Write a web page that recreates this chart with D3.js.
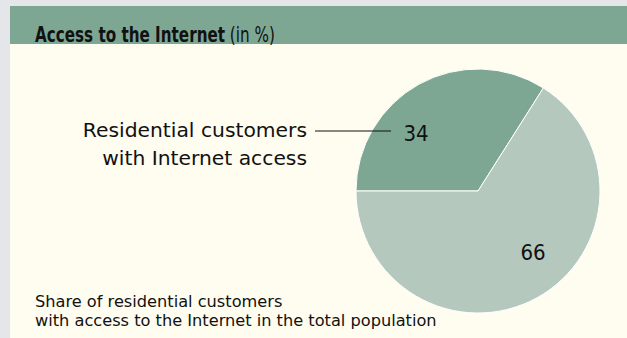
<!DOCTYPE html>
<html lang="en">
<head>
  <meta charset="UTF-8">
  <title>Access to the Internet</title>
  <script src="https://cdn.jsdelivr.net/npm/d3@7"></script>
  <style>
    body { margin: 0; background: #e5e6ea; }
    text { font-family: "DejaVu Sans", sans-serif; fill: #111; }
  </style>
</head>
<body>
  <svg width="627" height="338" id="mainsvg"></svg>
  <script>
    const categories = ['Residential customers with Internet access', 'Others']
    const values = [34, 66]
    const colors = ['#7da793', '#b5c8bd']

    const svg = d3.select('#mainsvg')
    const width = +svg.attr('width')
    const height = +svg.attr('height')

    // panel + header band
    svg.append('rect').attr('x', 10).attr('y', 6).attr('width', width - 10).attr('height', height - 6).attr('fill', '#fffcf0')
    svg.append('rect').attr('x', 10).attr('y', 6).attr('width', width - 10).attr('height', 38).attr('fill', '#7da793')

    // title squeezed horizontally to match the narrow original face
    const titleG = svg.append('g')
    const title = titleG.append('text').attr('x', 0).attr('y', 0).attr('font-size', 21)
      .style('font-family', '"DejaVu Sans Condensed", sans-serif')
    title.append('tspan').attr('font-weight', 'bold').text('Access to the Internet')
    title.append('tspan').text(' (in %)')
    const tw = title.node().getComputedTextLength()
    titleG.attr('transform', `translate(35,42) scale(${240 / tw},1)`)

    const cx = 478, cy = 191, r = 122
    const pie = d3.pie().sort(null).startAngle(-Math.PI / 2).endAngle(1.5 * Math.PI)
    const arcs = pie(values)
    const arc = d3.arc().innerRadius(0).outerRadius(r)

    const g = svg.append('g').attr('transform', `translate(${cx},${cy})`)
    g.selectAll('path').data(arcs).join('path')
      .attr('d', arc)
      .attr('fill', (d, i) => colors[i])
      .attr('stroke', '#fff')
      .attr('stroke-width', 1)

    const labelPos = [[-62, -50], [55, 69]]
    g.selectAll('text.val').data(arcs).join('text')
      .attr('class', 'val')
      .attr('x', (d, i) => labelPos[i][0])
      .attr('y', (d, i) => labelPos[i][1])
      .attr('text-anchor', 'middle')
      .attr('font-size', 22)
      .style('font-family', '"DejaVu Sans Condensed", sans-serif')
      .text(d => d.data)

    // leader line + callout for the 34 slice
    svg.append('line').attr('x1', 315).attr('x2', 391).attr('y1', 131).attr('y2', 131)
      .attr('stroke', '#111').attr('stroke-width', 1)
    const callout = svg.append('text').attr('text-anchor', 'end').attr('font-size', 20.3)
    callout.append('tspan').attr('x', 307).attr('y', 137).text('Residential customers')
    callout.append('tspan').attr('x', 307).attr('y', 165).text('with Internet access')

    const note = svg.append('text').attr('font-size', 16.2)
    note.append('tspan').attr('x', 35).attr('y', 307).text('Share of residential customers')
    note.append('tspan').attr('x', 35).attr('y', 326).text('with access to the Internet in the total population')
  </script>
</body>
</html>
